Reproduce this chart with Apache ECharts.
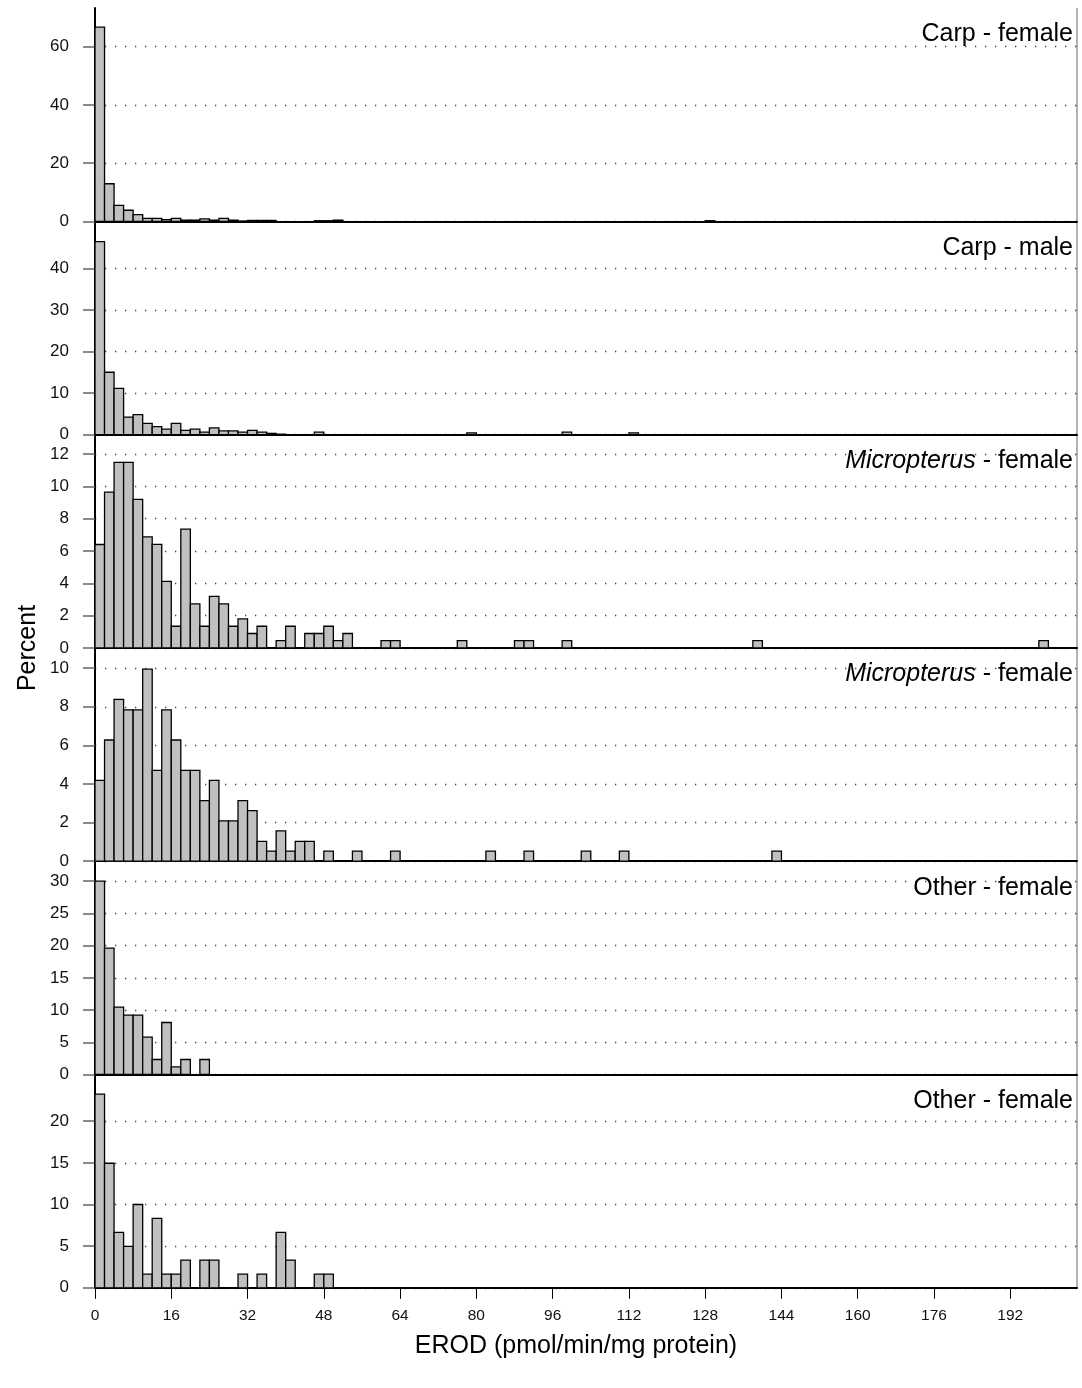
<!DOCTYPE html>
<html>
<head>
<meta charset="utf-8">
<script src="https://cdn.jsdelivr.net/npm/echarts@6/dist/echarts.min.js"></script>
<style>
  html, body { margin: 0; padding: 0; background: #fff; }
  #chart { width: 1082px; height: 1388px; }
</style>
</head>
<body>
<div id="chart"></div>
<script>
// histogram bins are 2 units wide, starting at 0 (percent per bin)
const binWidth = 2;
const xTicks = [0, 16, 32, 48, 64, 80, 96, 112, 128, 144, 160, 176, 192];

const panelNames = ['Carp - female', 'Carp - male', '{i|Micropterus} - female',
  '{i|Micropterus} - female', 'Other - female', 'Other - female'];

const carpFemale = [66.7, 12.9, 5.5, 3.8, 2.3, 1.0, 1.0, 0.6, 1.0, 0.4, 0.4, 0.8, 0.4, 1.0, 0.4, 0.1,
  0.3, 0.3, 0.3, 0, 0, 0, 0, 0.2, 0.2, 0.4, 0, 0, 0, 0, 0, 0, 0, 0, 0, 0, 0, 0, 0, 0,
  0, 0, 0, 0, 0, 0, 0, 0, 0, 0, 0, 0, 0, 0, 0, 0, 0, 0, 0, 0, 0, 0, 0, 0, 0.2];
const carpMale = [46.4, 15.0, 11.1, 4.2, 4.8, 2.7, 1.9, 1.3, 2.7, 1.0, 1.3, 0.6, 1.6, 0.9, 0.9, 0.6,
  1.0, 0.6, 0.3, 0.1, 0, 0, 0, 0.6, 0, 0, 0, 0, 0, 0, 0, 0, 0, 0, 0, 0, 0, 0, 0, 0.4,
  0, 0, 0, 0, 0, 0, 0, 0, 0, 0.6, 0, 0, 0, 0, 0, 0, 0.4];
const microFemaleA = [6.4, 9.64, 11.48, 11.48, 9.19, 6.87, 6.41, 4.12, 1.34, 7.35, 2.73, 1.34, 3.19,
  2.73, 1.34, 1.8, 0.89, 1.34, 0, 0.45, 1.34, 0, 0.89, 0.89, 1.34, 0.45, 0.89, 0, 0, 0, 0.45, 0.45,
  0, 0, 0, 0, 0, 0, 0.45, 0, 0, 0, 0, 0, 0.45, 0.45, 0, 0, 0, 0.45, 0, 0, 0, 0, 0, 0, 0, 0, 0, 0,
  0, 0, 0, 0, 0, 0, 0, 0, 0, 0.45, 0, 0, 0, 0, 0, 0, 0, 0, 0, 0, 0, 0, 0, 0, 0, 0, 0, 0, 0, 0,
  0, 0, 0, 0, 0, 0, 0, 0, 0, 0.45];
const microFemaleB = [4.19, 6.28, 8.38, 7.84, 7.84, 9.95, 4.71, 7.84, 6.28, 4.71, 4.71, 3.14, 4.19,
  2.09, 2.09, 3.14, 2.62, 1.03, 0.52, 1.57, 0.52, 1.03, 1.03, 0, 0.52, 0, 0, 0.52, 0, 0, 0, 0.52,
  0, 0, 0, 0, 0, 0, 0, 0, 0, 0.52, 0, 0, 0, 0.52, 0, 0, 0, 0, 0, 0.52, 0, 0, 0, 0.52,
  0, 0, 0, 0, 0, 0, 0, 0, 0, 0, 0, 0, 0, 0, 0, 0.52];
const otherFemaleA = [30.0, 19.6, 10.45, 9.2, 9.2, 5.8, 2.33, 8.07, 1.19, 2.33, 0, 2.33];
const otherFemaleB = [23.25, 14.95, 6.65, 4.97, 10.0, 1.64, 8.34, 1.64, 1.64, 3.33, 0, 3.33, 3.33,
  0, 0, 1.64, 0, 1.64, 0, 6.65, 3.33, 0, 0, 1.64, 1.64];

const panelValues = [carpFemale, carpMale, microFemaleA, microFemaleB, otherFemaleA, otherFemaleB];
const yTicks = [
  [0, 20, 40, 60],
  [0, 10, 20, 30, 40],
  [0, 2, 4, 6, 8, 10, 12],
  [0, 2, 4, 6, 8, 10],
  [0, 5, 10, 15, 20, 25, 30],
  [0, 5, 10, 15, 20]
];
const yMax = [73.3, 51.3, 13.2, 11.05, 33.1, 25.6];
const xMax = 206;

const chart = echarts.init(document.getElementById('chart'));
const font = 'Liberation Sans, Arial, Helvetica, sans-serif';

const panelTop = 8;
const panelH = 213.3;
const last = panelValues.length - 1;

let grids = [], xAxes = [], yAxes = [], series = [], titles = [];

panelValues.forEach(function (vals, i) {
  let data = [];
  vals.forEach(function (v, b) {
    if (v > 0) data.push([b * binWidth, (b + 1) * binWidth, v]);
  });
  let top = panelTop + panelH * i;
  grids.push({ left: 95, width: 982, top: top, height: panelH, containLabel: false });
  xAxes.push({
    type: 'value', gridIndex: i, min: 0, max: xMax,
    axisLine: { show: true, onZero: false, lineStyle: { color: '#000', width: 2 } },
    axisTick: {
      show: i === last, customValues: xTicks, length: 11,
      lineStyle: { color: '#000', width: 1 }
    },
    axisLabel: {
      show: i === last, customValues: xTicks, margin: 20,
      fontFamily: font, fontSize: 15.5, color: '#111'
    },
    splitLine: { show: false }
  });
  yAxes.push({
    type: 'value', gridIndex: i, min: 0, max: yMax[i],
    axisLine: { show: true, lineStyle: { color: '#000', width: 2 } },
    axisTick: {
      show: true, customValues: yTicks[i], length: 12,
      lineStyle: { color: '#666', width: 1.5 }
    },
    axisLabel: {
      customValues: yTicks[i], margin: 26,
      fontFamily: font, fontSize: 17, color: '#111'
    },
    splitLine: { show: true, lineStyle: { color: '#444', width: 1.3, type: [1.3, 8.7] } }
  });
  series.push({
    type: 'custom', xAxisIndex: i, yAxisIndex: i,
    encode: { x: [0, 1], y: 2 },
    data: data,
    renderItem: function (params, api) {
      const p0 = api.coord([api.value(0), api.value(2)]);
      const p1 = api.coord([api.value(1), 0]);
      return {
        type: 'rect',
        shape: { x: p0[0], y: p0[1], width: p1[0] - p0[0], height: p1[1] - p0[1] },
        style: { fill: '#c0c0c0', stroke: '#000', lineWidth: 1.3 }
      };
    }
  });
  titles.push({
    text: panelNames[i], right: 9, top: top + 14, padding: 0,
    textStyle: {
      fontFamily: font, fontSize: 25, fontWeight: 'normal', color: '#000',
      rich: { i: { fontFamily: font, fontSize: 25, fontStyle: 'italic', color: '#000' } }
    }
  });
});

chart.setOption({
  animation: false,
  backgroundColor: '#fff',
  title: titles,
  grid: grids,
  xAxis: xAxes,
  yAxis: yAxes,
  series: series,
  graphic: [
    {
      type: 'line', silent: true,
      shape: { x1: 1077, y1: panelTop, x2: 1077, y2: panelTop + panelH * 6 },
      style: { stroke: '#666', lineWidth: 1 }
    },
    {
      type: 'text', x: 28, y: 648, rotation: Math.PI / 2,
      style: {
        text: 'Percent', fontFamily: font, fontSize: 25, fill: '#000',
        align: 'center', verticalAlign: 'middle'
      }
    },
    {
      type: 'text', x: 576, y: 1346,
      style: {
        text: 'EROD (pmol/min/mg protein)', fontFamily: font, fontSize: 25, fill: '#000',
        align: 'center', verticalAlign: 'middle'
      }
    }
  ]
});
</script>
</body>
</html>
